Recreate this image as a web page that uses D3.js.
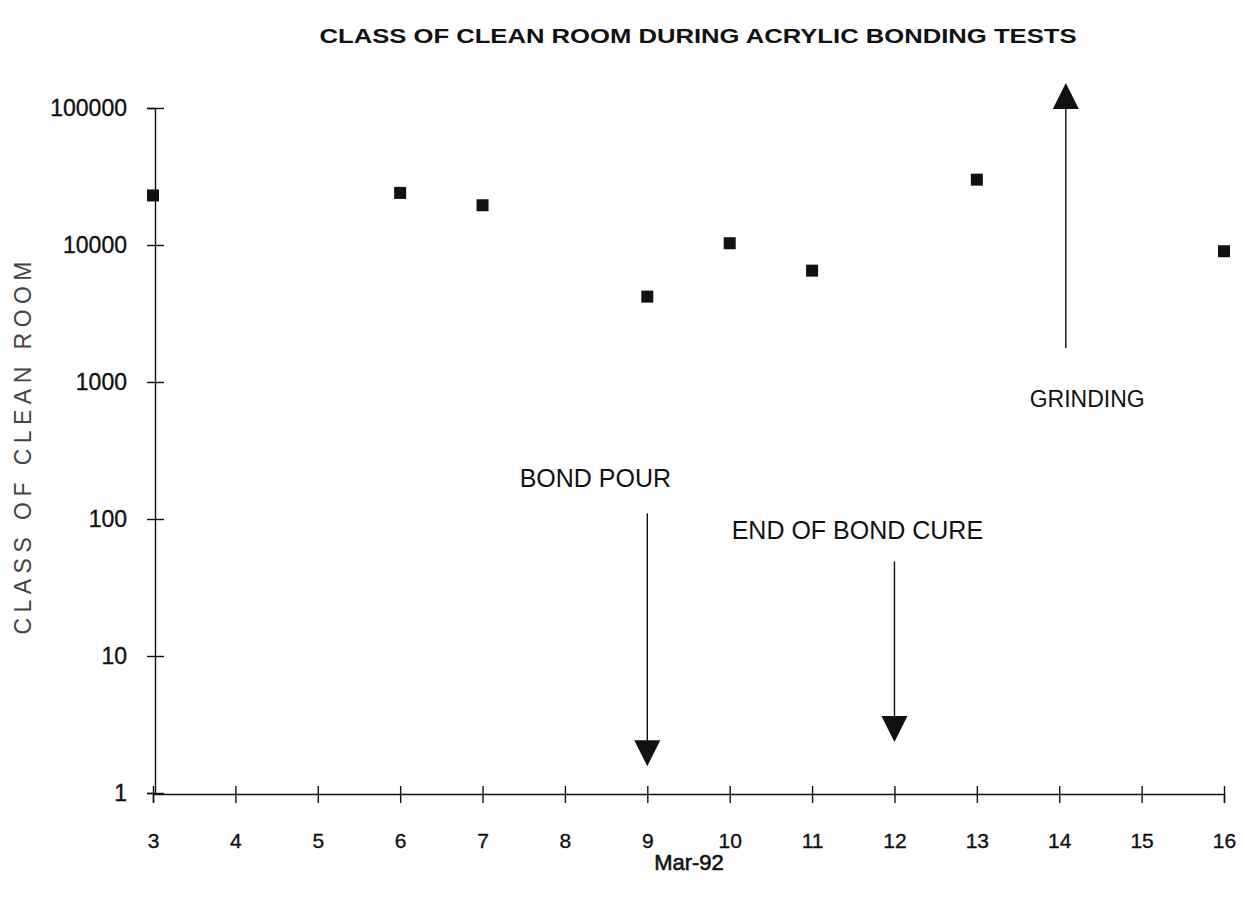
<!DOCTYPE html>
<html>
<head>
<meta charset="utf-8">
<script src="https://cdn.jsdelivr.net/npm/d3@7"></script>
<style>
  body { margin: 0; background: #fff; }
  text { font-family: "Liberation Sans", Arial, sans-serif; fill: #111; }
</style>
</head>
<body>
<svg id="chart"></svg>
<script>
// Days of March 1992 and measured clean room class
const days = [3, 6, 7, 9, 10, 11, 13, 16];
const roomClass = [23000, 24000, 19500, 4200, 10300, 6500, 30000, 9000];

const xTicks = [3, 4, 5, 6, 7, 8, 9, 10, 11, 12, 13, 14, 15, 16];
const yTicks = [1, 10, 100, 1000, 10000, 100000];

// Event annotations (day, arrow start value, arrow tip value, label position)
const eventNames = ["BOND POUR", "END OF BOND CURE", "GRINDING"];
const eventDays = [9, 12, 14.08];
const eventFrom = [110, 49, 1770];
const eventTo = [1.57, 2.36, 152000];
const labelDays = [8.37, 11.55, 14.34];
const labelValues = [200, 83, 760];
const labelSizes = [25, 25, 23];

const svg = d3.select("#chart").attr("width", 1245).attr("height", 901);

// Scales
const x = d3.scaleLinear().domain([3, 16]).range([153, 1224]);
const y = d3.scaleLog().domain([1, 100000]).range([793, 108]);

// Title
svg.append("text")
    .attr("x", 698).attr("y", 43)
    .attr("text-anchor", "middle")
    .attr("font-size", 21)
    .attr("font-weight", "bold")
    .attr("textLength", 757)
    .attr("lengthAdjust", "spacingAndGlyphs")
    .text("CLASS OF CLEAN ROOM DURING ACRYLIC BONDING TESTS");

// Y axis
const yAxis = svg.append("g")
    .attr("transform", "translate(155,0)")
    .call(d3.axisLeft(y).tickValues(yTicks).tickFormat(d3.format("d")).tickSizeOuter(0).tickSize(8).tickPadding(20));
yAxis.selectAll(".tick line").attr("x1", -8).attr("x2", 9);
yAxis.selectAll(".tick text")
    .attr("font-size", 23).attr("font-family", "Liberation Sans")
    .attr("fill", "#111").attr("stroke", "#111").attr("stroke-width", 0.35);
yAxis.selectAll("path, line").attr("stroke", "#111").attr("stroke-width", 1.4);

// X axis
const xAxis = svg.append("g")
    .attr("transform", "translate(0,794)")
    .call(d3.axisBottom(x).tickValues(xTicks).tickFormat(d3.format("d")).tickSizeOuter(0).tickSize(9).tickPadding(30));
xAxis.selectAll(".tick line").attr("y1", -8).attr("y2", 9);
xAxis.selectAll(".tick text")
    .attr("font-size", 21).attr("font-family", "Liberation Sans")
    .attr("fill", "#111").attr("stroke", "#111").attr("stroke-width", 0.35);
xAxis.selectAll("path, line").attr("stroke", "#111").attr("stroke-width", 1.4);

// Axis titles
svg.append("text")
    .attr("x", 689).attr("y", 870)
    .attr("text-anchor", "middle")
    .attr("font-size", 22)
    .attr("stroke", "#111").attr("stroke-width", 0.6)
    .text("Mar-92");

svg.append("text")
    .attr("transform", "translate(31,448) rotate(-90)")
    .attr("text-anchor", "middle")
    .attr("font-family", "DejaVu Sans")
    .attr("font-weight", 200)
    .attr("font-size", 23)
    .attr("textLength", 373)
    .attr("lengthAdjust", "spacing")
    .style("fill", "#444")
    .text("CLASS OF CLEAN ROOM");

// Data points
svg.append("g").selectAll("rect")
    .data(days.map((d, i) => ({ day: d, value: roomClass[i] })))
    .join("rect")
    .attr("x", d => x(d.day) - 6)
    .attr("y", d => y(d.value) - 6)
    .attr("width", 12)
    .attr("height", 12)
    .attr("fill", "#111");

// Event arrows
const events = eventNames.map((name, i) => ({
    name, day: eventDays[i], from: eventFrom[i], to: eventTo[i],
    labelDay: labelDays[i], labelValue: labelValues[i], size: labelSizes[i]
}));

const ev = svg.append("g").selectAll("g").data(events).join("g");

ev.append("line")
    .attr("x1", d => x(d.day)).attr("x2", d => x(d.day))
    .attr("y1", d => y(d.from))
    .attr("y2", d => y(d.to) + (d.to > d.from ? 20 : -20))
    .attr("stroke", "#111")
    .attr("stroke-width", 1.4);

ev.append("path")
    .attr("d", d => {
        const tx = x(d.day), ty = y(d.to);
        const dir = d.to > d.from ? 1 : -1; // 1 = pointing up
        const base = ty + dir * 26;
        return `M${tx},${ty}L${tx - 13},${base}L${tx + 13},${base}Z`;
    })
    .attr("fill", "#111");

ev.append("text")
    .attr("x", d => x(d.labelDay))
    .attr("y", d => y(d.labelValue) + 9)
    .attr("text-anchor", "middle")
    .attr("font-size", d => d.size)
    .text(d => d.name);
</script>
</body>
</html>
